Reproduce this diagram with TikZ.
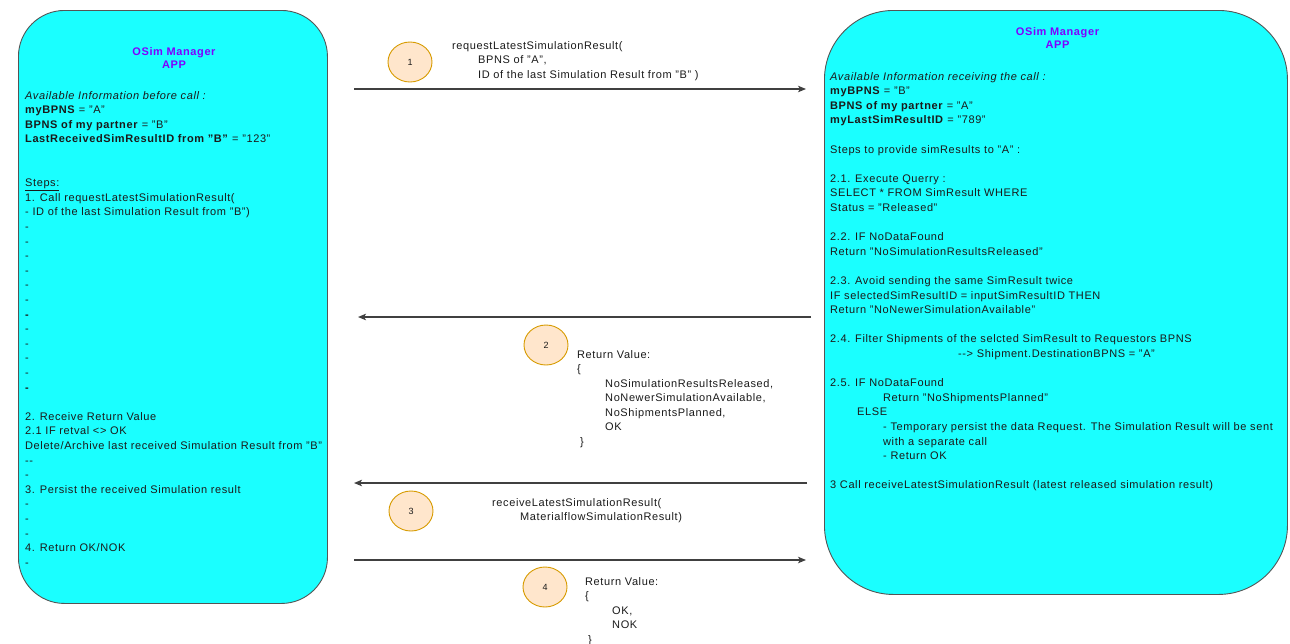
\documentclass[tikz,border=0pt]{standalone}
\usepackage{fontspec}
\setmainfont{Liberation Sans}[LetterSpace=5.5]
\usetikzlibrary{arrows.meta,shapes.geometric}

\definecolor{appfill}{HTML}{1AFFFF}
\definecolor{appline}{HTML}{555555}
\definecolor{apptitle}{HTML}{7F00FF}
\definecolor{stepfill}{HTML}{FFE6CC}
\definecolor{stepline}{HTML}{D79B00}
\definecolor{txt}{HTML}{1A1A1A}
\definecolor{flowline}{HTML}{404040}

% text blocks are placed by the baseline of their last line
\tikzset{
  appbox/.style={draw=appline, line width=0.9pt, fill=appfill, inner sep=0pt, anchor=north west},
  apphead/.style={font=\bfseries\fontsize{11}{13}\selectfont, text=apptitle, align=center, inner sep=0pt},
  bodytext/.style={font=\fontsize{11}{14.6}\selectfont, text=txt, align=left, anchor=base west, inner sep=0pt},
  calltext/.style={font=\fontsize{11}{14.5}\selectfont, text=txt, align=left, anchor=base west, inner sep=0pt},
  stepmark/.style={ellipse, draw=stepline, fill=stepfill, line width=0.9pt, minimum width=44pt, minimum height=40pt, inner sep=0pt, font=\fontsize{9}{10}\selectfont, text=txt},
  flow/.style={draw=flowline, line width=1.3pt, -{Stealth[length=8pt,width=6.5pt,inset=2pt]}}
}

\begin{document}
\begin{tikzpicture}[x=1pt,y=-1pt]
\useasboundingbox (0,0) rectangle (1290,643);

% the two applications
\node[appbox, minimum width=309pt, minimum height=593pt, rounded corners=46pt] (leftapp) at (18,10) {};
\node[appbox, minimum width=463pt, minimum height=584pt, rounded corners=69pt] (rightapp) at (824,10) {};

\node[apphead] (lefthead) at (174,58.5) {OSim Manager\\APP};
\node[apphead] (righthead) at (1057.5,38.5) {OSim Manager\\APP};

% caller side
\node[bodytext] (leftinfo) at (25,566.2) {%
\textit{Available Information before call :}\\
\textbf{myBPNS} = "A"\\
\textbf{BPNS of my partner} = "B"\\
\textbf{LastReceivedSimResultID from "B"} = "123"\\
\mbox{}\\
\mbox{}\\
\underline{Steps:}\\
1. Call requestLatestSimulationResult(\\
- ID of the last Simulation Result from "B")\\
-\\ -\\ -\\ -\\ -\\ -\\ \textbf{-}\\ -\\ -\\ -\\ -\\ \textbf{-}\\
\mbox{}\\
2. Receive Return Value\\
2.1 IF retval <> OK\\
Delete/Archive last received Simulation Result from "B"\\
-{}-\\
-\\
3. Persist the received Simulation result\\
-\\ -\\ -\\
4. Return OK/NOK\\
-};

% provider side
\node[bodytext] (rightinfo) at (830,488.8) {%
\textit{Available Information receiving the call :}\\
\textbf{myBPNS} = "B"\\
\textbf{BPNS of my partner} = "A"\\
\textbf{myLastSimResultID} = "789"\\
\mbox{}\\
Steps to provide simResults to "A" :\\
\mbox{}\\
2.1. Execute Querry :\\
SELECT * FROM SimResult WHERE\\
Status = "Released"\\
\mbox{}\\
2.2. IF NoDataFound\\
Return "NoSimulationResultsReleased"\\
\mbox{}\\
2.3. Avoid sending the same SimResult twice\\
IF selectedSimResultID = inputSimResultID THEN\\
Return "NoNewerSimulationAvailable"\\
\mbox{}\\
2.4. Filter Shipments of the selcted SimResult to Requestors BPNS\\
\hspace*{128pt}-{}-> Shipment.DestinationBPNS = "A"\\
\mbox{}\\
2.5. IF NoDataFound\\
\hspace*{53pt}Return "NoShipmentsPlanned"\\
\hspace*{27pt}ELSE\\
\hspace*{53pt}- Temporary persist the data Request. The Simulation Result will be sent\\
\hspace*{53pt}with a separate call\\
\hspace*{53pt}- Return OK\\
\mbox{}\\
3 Call receiveLatestSimulationResult (latest released simulation result)};

% message arrows
\coordinate (req1s) at (354,89);
\coordinate (req1e) at (806,89);
\coordinate (ret2s) at (811,317);
\coordinate (ret2e) at (358,317);
\coordinate (rcv3s) at (807,483);
\coordinate (rcv3e) at (354,483);
\coordinate (ret4s) at (354,560);
\coordinate (ret4e) at (806,560);

\draw[flow] (req1s) -- (req1e);
\draw[flow] (ret2s) -- (ret2e);
\draw[flow] (rcv3s) -- (rcv3e);
\draw[flow] (ret4s) -- (ret4e);

% step numbers
\node[stepmark] (m1) at (410,62) {1};
\node[stepmark] (m2) at (546,345) {2};
\node[stepmark] (m3) at (411,511) {3};
\node[stepmark] (m4) at (545,587) {4};

% message texts
\node[calltext] (call1) at (452,78) {requestLatestSimulationResult(\\
\hspace*{26pt}BPNS of "A",\\
\hspace*{26pt}ID of the last Simulation Result from "B" )};

\node[calltext] (call2) at (577,445) {Return Value:\\
\{\\
\hspace*{28pt}NoSimulationResultsReleased,\\
\hspace*{28pt}NoNewerSimulationAvailable,\\
\hspace*{28pt}NoShipmentsPlanned,\\
\hspace*{28pt}OK\\
\hspace*{3pt}\}};

\node[calltext] (call3) at (492,520.5) {receiveLatestSimulationResult(\\
\hspace*{28pt}MaterialflowSimulationResult)};

\node[calltext] (call4) at (585,643) {Return Value:\\
\{\\
\hspace*{27pt}OK,\\
\hspace*{27pt}NOK\\
\hspace*{3pt}\}};
\end{tikzpicture}
\end{document}
